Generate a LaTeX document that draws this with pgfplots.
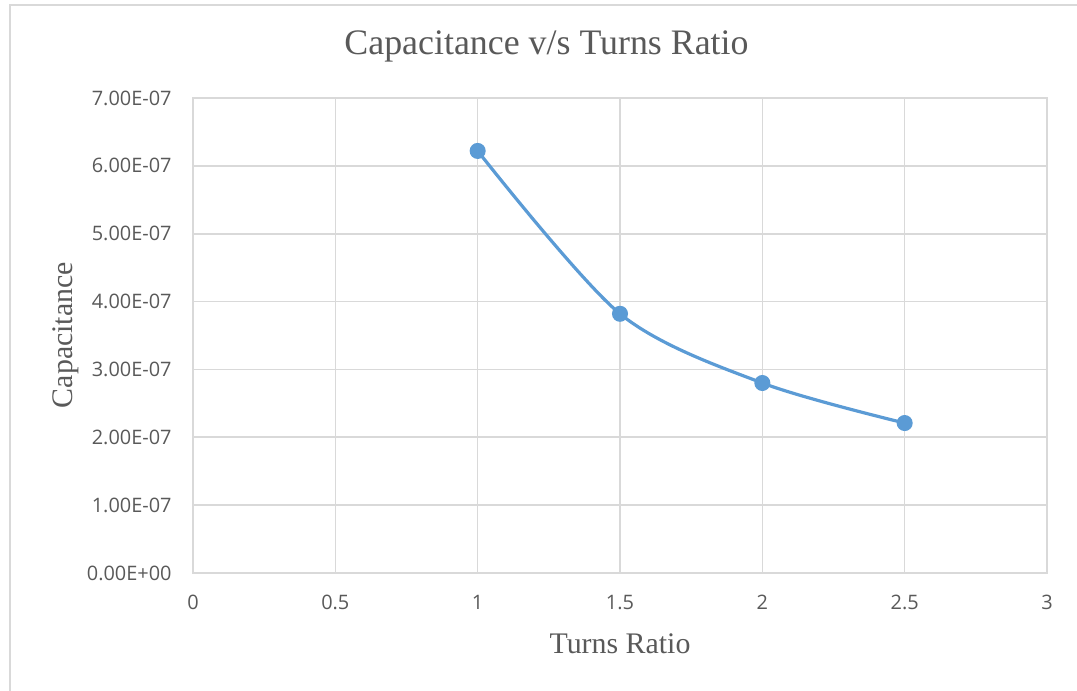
\documentclass[border=0pt]{standalone}
\usepackage{pgfplots}
\pgfplotsset{compat=1.18}
\usepackage{fontspec}
\setmainfont{Liberation Serif}
\newfontfamily\tickfont{Open Sans}

\definecolor{xlblue}{HTML}{5B9BD5}
\definecolor{xlgrid}{HTML}{D9D9D9}
\definecolor{xltext}{HTML}{595959}

\begin{document}
\begin{tikzpicture}
\useasboundingbox (0,0) rectangle (538.5bp,345.5bp);
% chart frame edges
\draw[xlgrid, line width=0.8bp] (5bp,0) -- (5bp,343bp) -- (538.5bp,343bp);

\begin{axis}[
    at={(96.5bp,59bp)}, anchor=south west,
    scale only axis,
    width=427bp, height=237.5bp,
    xmin=0, xmax=3, ymin=0, ymax=7e-7,
    xtick={0,0.5,1,1.5,2,2.5,3},
    xticklabels={0,0.5,1,1.5,2,2.5,3},
    ytick={0,1e-7,2e-7,3e-7,4e-7,5e-7,6e-7,7e-7},
    yticklabels={0.00E+00,1.00E-07,2.00E-07,3.00E-07,4.00E-07,5.00E-07,6.00E-07,7.00E-07},
    scaled y ticks=false,
    grid=major,
    grid style={xlgrid, line width=0.8bp},
    axis line style={xlgrid, line width=0.8bp},
    major tick length=0pt,
    tick label style={font=\tickfont\fontsize{10}{12}\selectfont, text=xltext},
    xticklabel style={anchor=base, inner sep=0pt, yshift=-18bp},
    yticklabel style={anchor=east, inner sep=0pt, xshift=-10.5bp},
]
\addplot[xlblue, line width=1.6bp, smooth, tension=0.5,
    mark=*, mark size=3.2bp, mark options={fill=xlblue, draw=xlblue}]
    table {
x y
1   6.22e-7
1.5 3.82e-7
2   2.80e-7
2.5 2.21e-7
};
\end{axis}

\node[anchor=base, text=xltext, inner sep=0pt, font=\fontsize{18}{21}\selectfont]
    at (273.25bp,318bp) {Capacitance v/s Turns Ratio};
\node[anchor=base, text=xltext, inner sep=0pt, font=\fontsize{15}{18}\selectfont]
    at (310bp,19bp) {Turns Ratio};
\node[anchor=base, rotate=90, text=xltext, inner sep=0pt, font=\fontsize{15}{18}\selectfont]
    at (36bp,178bp) {Capacitance};
\end{tikzpicture}
\end{document}
